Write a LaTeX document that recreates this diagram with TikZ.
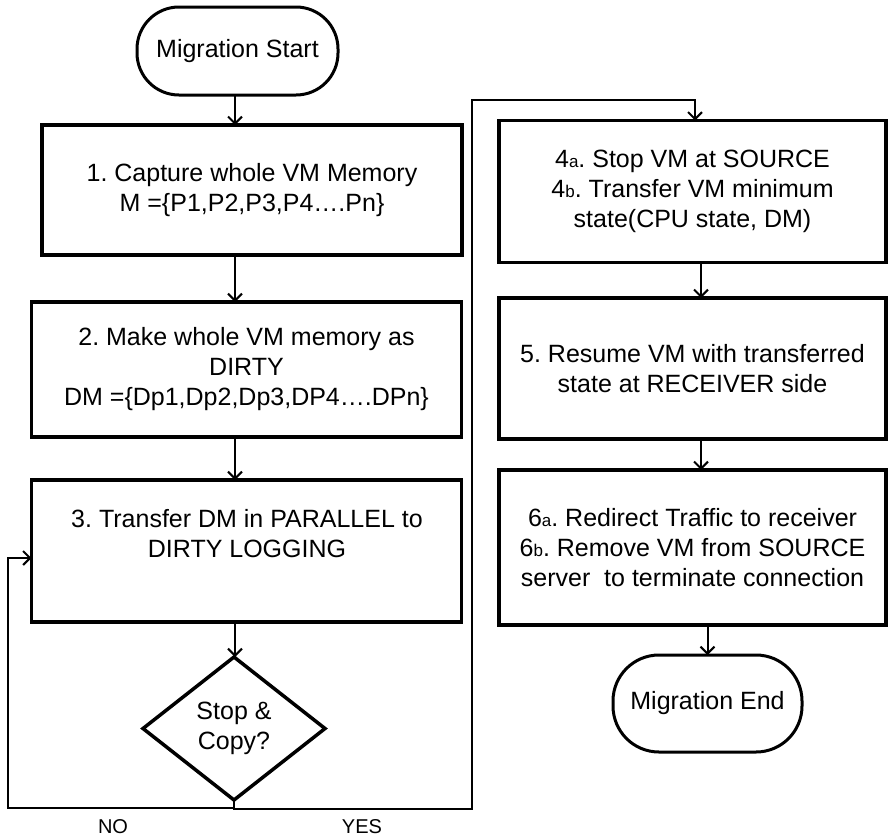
\documentclass[tikz,border=0pt]{standalone}
\usepackage{fontspec}
\setmainfont{Liberation Sans}
\usetikzlibrary{arrows.meta,shapes.geometric}
\newcommand{\sml}[1]{{\fontsize{17}{17}\selectfont #1}}
\frenchspacing
\begin{document}
\begin{tikzpicture}[x=1pt,y=-1pt,
  every node/.style={font=\fontsize{25}{30}\selectfont, inner sep=0pt, outer sep=0pt},
  box/.style={draw, line width=3.5pt, rectangle, align=center},
  term/.style={draw, line width=3pt, rounded corners=42pt, align=center},
  decision/.style={draw, line width=3.5pt, diamond, align=center},
  conn/.style={line width=2pt, -{Straight Barb[length=7pt,width=14pt]}},
  lbl/.style={font=\fontsize{20}{24}\selectfont}
]
\useasboundingbox[fill=white] (0,0) rectangle (888,838);

% left column
\node[term, minimum width=201pt, minimum height=88pt] (start) at (237.5,51) {Migration Start};
\node[box, minimum width=420pt, minimum height=130pt] (b1) at (252,190) {1. Capture whole VM Memory\\M =\{P1,P2,P3,P4\dots.Pn\}};
\node[box, minimum width=430pt, minimum height=135pt] (b2) at (246.5,369.5) {2. Make whole VM memory as\\DIRTY\\DM =\{Dp1,Dp2,Dp3,DP4\dots.DPn\}};
\node[box, minimum width=430pt, minimum height=142pt] (b3) at (246.5,551) {};
\node[align=center] (b3t) at (247,534) {3. Transfer DM in PARALLEL to\\DIRTY LOGGING};
\node[decision, minimum width=182pt, minimum height=143pt] (dia) at (234,728.5) {Stop \&\\Copy?};

% right column
\node[box, minimum width=387pt, minimum height=142pt] (b4) at (692.5,191.5) {4\sml{a}. Stop VM at SOURCE\\4\sml{b}. Transfer VM minimum\\state(CPU state, DM)};
\node[box, minimum width=387pt, minimum height=141pt] (b5) at (692.5,368.5) {5. Resume VM with transferred\\state at RECEIVER side};
\node[box, minimum width=387pt, minimum height=155pt] (b6) at (692.5,547.5) {6\sml{a}. Redirect Traffic to receiver\\6\sml{b}. Remove VM from SOURCE\\server\ \ to terminate connection};
\node[term, rounded corners=46pt, minimum width=189pt, minimum height=97pt] (end) at (707.5,703.5) {Migration End};

% labels
\node[lbl] (no) at (113,827) {NO};
\node[lbl] (yes) at (362,827) {YES};

% helper coordinates
\coordinate (lx) at (235,0);
\coordinate (rx) at (701,0);
\coordinate (nc1) at (8,808);
\coordinate (nc2) at (8,558);
\coordinate (yc1) at (472,809);
\coordinate (yc2) at (695,100);

% connectors
\draw[conn] (start.south -| lx) -- (b1.north -| lx);
\draw[conn] (b1.south -| lx) -- (b2.north -| lx);
\draw[conn] (b2.south -| lx) -- (b3.north -| lx);
\draw[conn] (b3.south -| lx) -- (dia.north -| lx);
\draw[conn] (dia.south) |- (nc1) -- (nc2) -- (nc2 -| b3.west);
\draw[conn] (dia.south) |- (yc1) |- (yc2) -- (yc2 |- b4.north);
\draw[conn] (b4.south -| rx) -- (b5.north -| rx);
\draw[conn] (b5.south -| rx) -- (b6.north -| rx);
\draw[conn] (b6.south -| end.north) -- (end.north);
\end{tikzpicture}
\end{document}
